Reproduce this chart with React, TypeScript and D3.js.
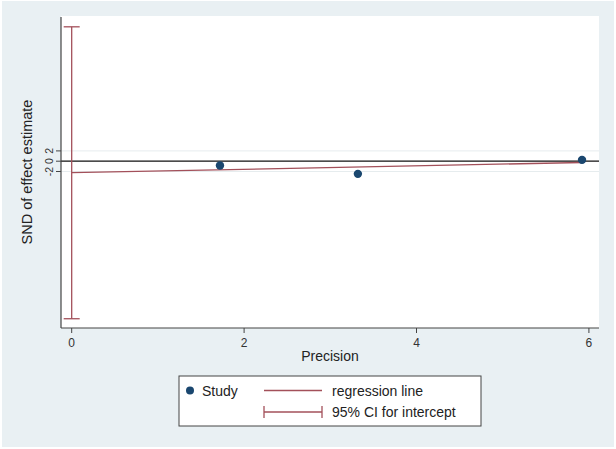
import React from "react";
import * as d3 from "d3";

const studyPrecision = [1.72, 3.32, 5.92];
const studySND = [-0.84, -2.46, 0.25];
const regIntercept = -2.24;
const regSlope = 0.335;
const ciIntercept = [-30.6, 26.1];
const xTicks = [0, 2, 4, 6];
const yTicks = [-2, 0, 2];

const W = 616, H = 449;
const plot = { left: 61, right: 599, top: 16, bottom: 328 };

export default function App() {
  const x = d3.scaleLinear().domain([-0.124, 6.117]).range([plot.left, plot.right]);
  const y = d3.scaleLinear().domain([-32.4, 28.2]).range([plot.bottom, plot.top]);
  const xMax = d3.max(studyPrecision) as number;
  const regLine = d3.line<number>().x((d) => x(d)).y((d) => y(regIntercept + regSlope * d));
  const red = "#a3505a";
  const navy = "#1a476f";
  const axisCol = "#444";
  const font = "Liberation Sans, Arial, sans-serif";
  const capHalf = 8;
  return (
    <svg width={W} height={H} style={{ position: "absolute", left: 0, top: 0 }} fontFamily={font}>
      <rect x={0} y={0} width={W} height={H} fill="#ffffff" />
      <rect x={2} y={1} width={612} height={446} fill="#e9f0f3" />
      <rect x={plot.left} y={plot.top} width={plot.right - plot.left} height={plot.bottom - plot.top} fill="#ffffff" />
      {/* grid lines */}
      {yTicks.filter((t) => t !== 0).map((t) => (
        <line key={t} x1={plot.left} x2={plot.right} y1={y(t)} y2={y(t)} stroke="#e6ecee" strokeWidth={1} />
      ))}
      {/* zero reference line */}
      <line x1={plot.left} x2={plot.right} y1={y(0)} y2={y(0)} stroke="#111" strokeWidth={1.2} />
      {/* CI for intercept */}
      <line x1={x(0)} x2={x(0)} y1={y(ciIntercept[0])} y2={y(ciIntercept[1])} stroke={red} strokeWidth={1.3} />
      {ciIntercept.map((v, i) => (
        <line key={i} x1={x(0) - capHalf} x2={x(0) + capHalf} y1={y(v)} y2={y(v)} stroke={red} strokeWidth={1.3} />
      ))}
      {/* regression line */}
      <path d={regLine([0, xMax]) as string} fill="none" stroke={red} strokeWidth={1.3} />
      {/* points */}
      {studyPrecision.map((p, i) => (
        <circle key={i} cx={x(p)} cy={y(studySND[i])} r={4.2} fill={navy} />
      ))}
      {/* axes */}
      <line x1={plot.left} x2={plot.left} y1={plot.top + 1} y2={plot.bottom} stroke={axisCol} strokeWidth={1.2} />
      <line x1={plot.left} x2={plot.right} y1={plot.bottom} y2={plot.bottom} stroke={axisCol} strokeWidth={1.2} />
      {yTicks.map((t) => (
        <g key={t}>
          <line x1={plot.left - 5} x2={plot.left} y1={y(t)} y2={y(t)} stroke={axisCol} strokeWidth={1} />
          <text
            transform={`translate(${plot.left - 8},${y(t)}) rotate(-90)`}
            textAnchor="middle"
            fontSize={10.5}
            fill="#333"
          >
            {t}
          </text>
        </g>
      ))}
      {xTicks.map((t) => (
        <g key={t}>
          <line x1={x(t)} x2={x(t)} y1={plot.bottom} y2={plot.bottom + 5} stroke={axisCol} strokeWidth={1} />
          <text x={x(t)} y={plot.bottom + 19} textAnchor="middle" fontSize={12} fill="#333">
            {t}
          </text>
        </g>
      ))}
      <text x={(plot.left + plot.right) / 2} y={361} textAnchor="middle" fontSize={14} fill="#222">
        Precision
      </text>
      <text
        transform={`translate(32,${(plot.top + plot.bottom) / 2}) rotate(-90)`}
        textAnchor="middle"
        fontSize={14.5}
        fill="#222"
      >
        SND of effect estimate
      </text>
      {/* legend */}
      <rect x={179} y={376} width={302} height={50} fill="#ffffff" stroke="#444" strokeWidth={1} />
      <circle cx={190} cy={390.5} r={4} fill={navy} />
      <text x={202} y={395.5} fontSize={14} fill="#222">Study</text>
      <line x1={264} x2={322} y1={390.5} y2={390.5} stroke={red} strokeWidth={1.3} />
      <text x={332} y={395.5} fontSize={14} fill="#222">regression line</text>
      <line x1={264} x2={322} y1={412} y2={412} stroke={red} strokeWidth={1.3} />
      <line x1={264} x2={264} y1={406} y2={418} stroke={red} strokeWidth={1.3} />
      <line x1={322} x2={322} y1={406} y2={418} stroke={red} strokeWidth={1.3} />
      <text x={332} y={417} fontSize={14} fill="#222">95% CI for intercept</text>
    </svg>
  );
}
